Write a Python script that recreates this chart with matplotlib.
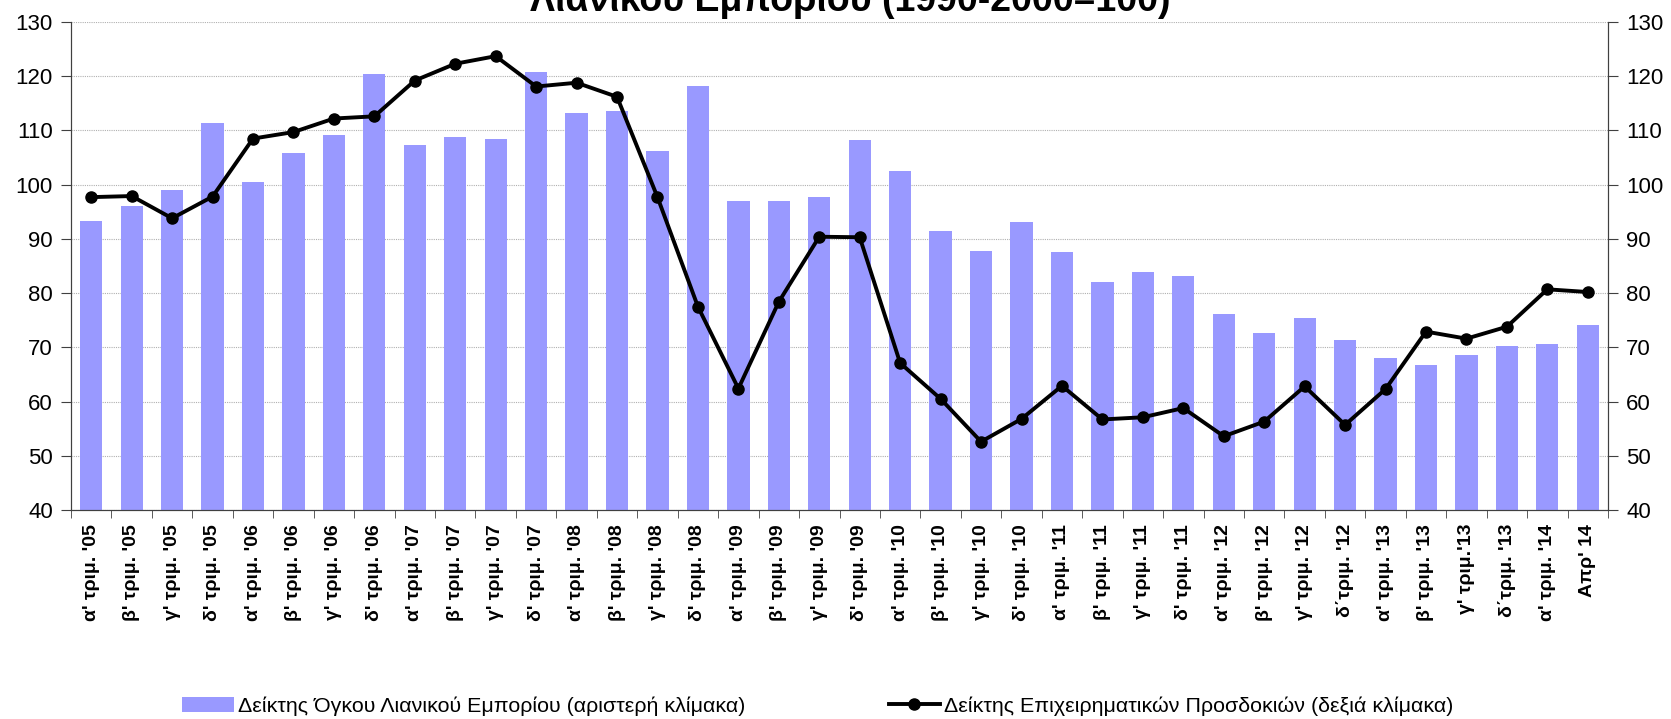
import matplotlib
matplotlib.use("Agg")
import matplotlib.pyplot as plt
from matplotlib.lines import Line2D
from matplotlib.patches import Patch
import numpy as np

plt.rcParams['font.family'] = ['Liberation Sans', 'DejaVu Sans']

categories = [
    "α' τριμ. '05", "β' τριμ. '05", "γ' τριμ. '05", "δ' τριμ. '05",
    "α' τριμ. '06", "β' τριμ. '06", "γ' τριμ. '06", "δ' τριμ. '06",
    "α' τριμ. '07", "β' τριμ. '07", "γ' τριμ. '07", "δ' τριμ. '07",
    "α' τριμ. '08", "β' τριμ. '08", "γ' τριμ. '08", "δ' τριμ. '08",
    "α' τριμ. '09", "β' τριμ. '09", "γ' τριμ. '09", "δ' τριμ. '09",
    "α' τριμ. '10", "β' τριμ. '10", "γ' τριμ. '10", "δ' τριμ. '10",
    "α' τριμ. '11", "β' τριμ. '11", "γ' τριμ. '11", "δ' τριμ. '11",
    "α' τριμ. '12", "β' τριμ. '12", "γ' τριμ. '12", "δ΄τριμ. '12",
    "α' τριμ. '13", "β' τριμ. '13", "γ' τριμ.'13", "δ΄τριμ. '13",
    "α' τριμ. '14", "Απρ' 14",
]

retail_volume = [
    93.3, 96.0, 99.0, 111.4,
    100.4, 105.8, 109.2, 120.4,
    107.4, 108.7, 108.5, 120.8,
    113.2, 113.6, 106.2, 118.2,
    97.0, 97.0, 97.8, 108.2,
    102.5, 91.4, 87.8, 93.2,
    87.6, 82.0, 83.9, 83.1,
    76.1, 72.7, 75.5, 71.4,
    68.0, 66.7, 68.6, 70.2,
    70.7, 74.2,
]

business_expectations = [
    97.7, 97.9, 93.8, 97.8,
    108.5, 109.7, 112.2, 112.6,
    119.2, 122.3, 123.7, 118.1,
    118.8, 116.2, 97.7, 77.5,
    62.4, 78.4, 90.4, 90.3,
    67.1, 60.5, 52.6, 56.8,
    62.9, 56.7, 57.1, 58.8,
    53.6, 56.3, 62.8, 55.7,
    62.3, 72.9, 71.6, 73.8,
    80.7, 80.2,
]

title = "Λιανικού Εμπορίου (1990-2000=100)"
legend_labels = ["Δείκτης Όγκου Λιανικού Εμπορίου (αριστερή κλίμακα)",
                 "Δείκτης Επιχειρηματικών Προσδοκιών (δεξιά κλίμακα)"]

W, H = 1671, 719
fig = plt.figure(figsize=(W / 100, H / 100), dpi=100)
ax = fig.add_axes([71 / W, 1 - 510 / H, (1608 - 71) / W, (510 - 22) / H])
x = np.arange(len(categories))

ax.bar(x, retail_volume, width=0.55, color='#9999FF', zorder=2)
ax.set_xlim(-0.5, len(categories) - 0.5)
ax.set_ylim(40, 130)
ax.set_yticks(np.arange(40, 131, 10))
ax.yaxis.grid(True, linestyle=(0, (1, 1)), color='#b0b0b0', linewidth=0.8, zorder=0)
ax.set_axisbelow(True)

ax.set_xticks(x)
ax.set_xticklabels(categories, rotation=90, fontsize=14, fontweight='bold')
ax.set_xticks(np.arange(-0.5, len(categories), 1), minor=True)
ax.tick_params(axis='x', which='major', length=0, pad=10)
ax.tick_params(axis='x', which='minor', length=6, color='#404040')
ax.tick_params(axis='y', labelsize=16, length=7, color='#404040', pad=6)

ax.spines['top'].set_visible(False)
for s in ['left', 'right', 'bottom']:
    ax.spines[s].set_color('#404040')

ax2 = ax.twinx()
ax2.plot(x, business_expectations, color='black', linewidth=2.8, marker='o',
         markersize=8, zorder=3)
ax2.set_ylim(40, 130)
ax2.set_yticks(np.arange(40, 131, 10))
ax2.tick_params(axis='y', labelsize=16, length=7, color='#404040', pad=6)
ax2.spines['top'].set_visible(False)
for s in ['left', 'right', 'bottom']:
    ax2.spines[s].set_color('#404040')

fig.text(850 / W, 1 - 11 / H, title, ha='center', va='baseline',
         fontsize=27, fontweight='bold')

handles = [Patch(facecolor='#9999FF', edgecolor='none'),
           Line2D([0], [0], color='black', linewidth=2.8, marker='o', markersize=8)]
fig.legend(handles, legend_labels, loc='center', bbox_to_anchor=(818 / W, 1 - 706 / H),
           ncol=2, frameon=False, columnspacing=6.7,
           handlelength=2.4, handletextpad=0.2,
           prop={'family': ['Liberation Sans', 'DejaVu Sans'], 'size': 15.4})

fig.savefig("out.png", dpi=100)
